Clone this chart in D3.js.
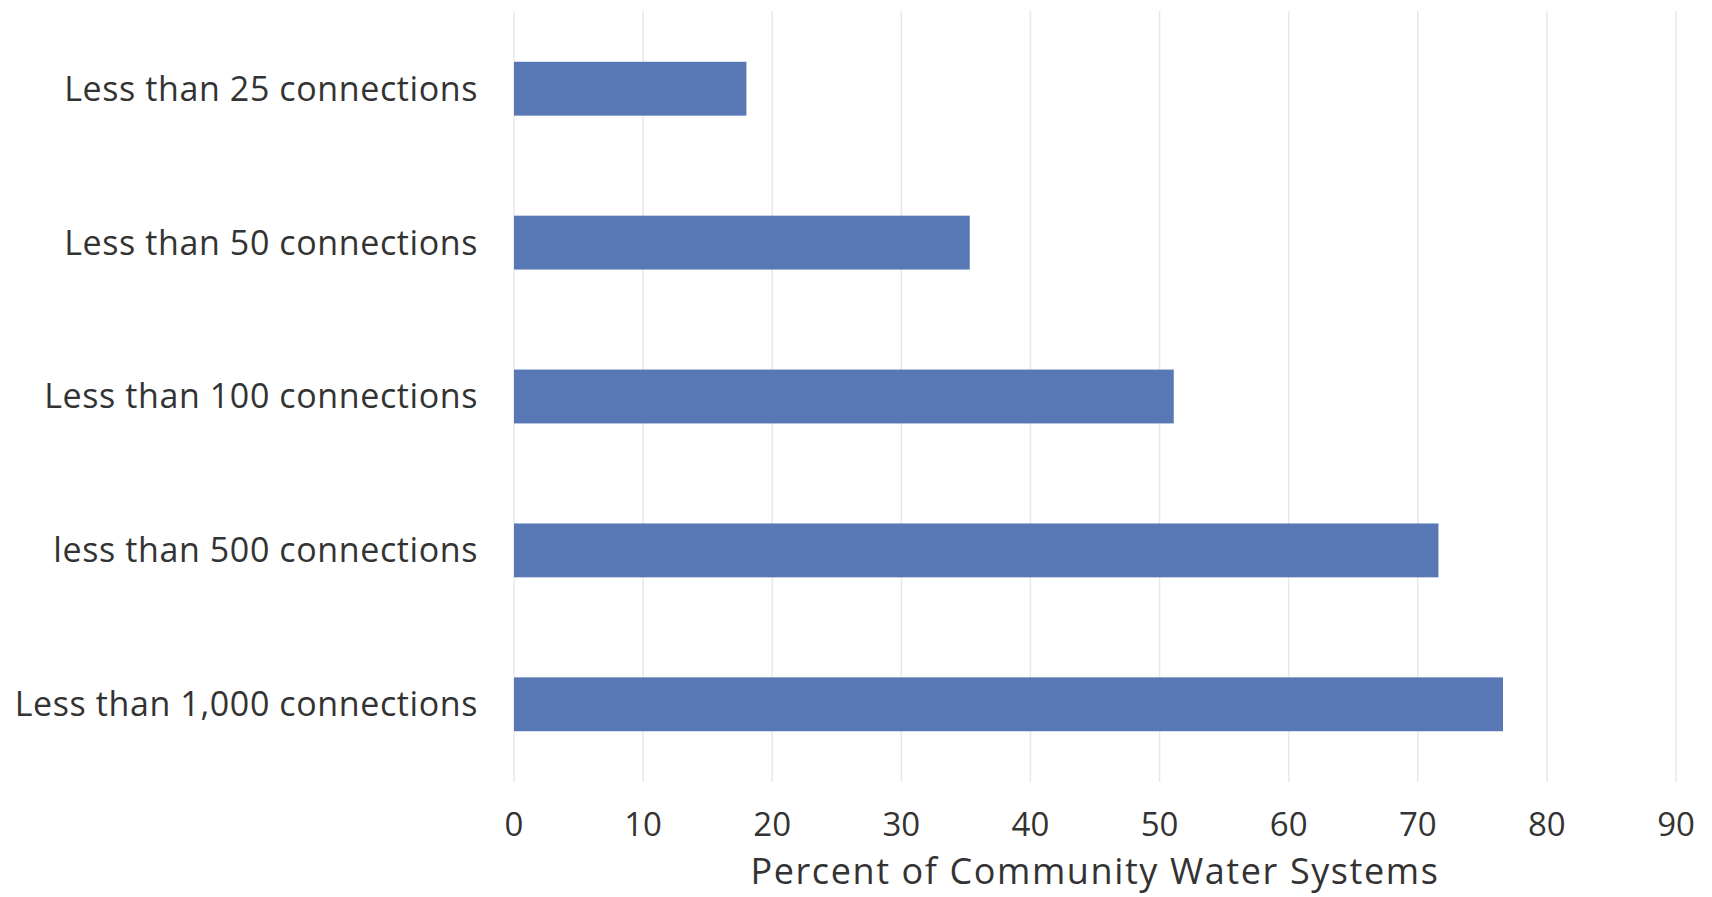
<!DOCTYPE html>
<html>
<head>
    <style>
        body {
            margin: 0;
            background-color: #fff;
            font-family: "Open Sans", Arial, sans-serif;
        }

        .grid line {
            stroke: #e8e8e8;
            stroke-width: 1.5px;
        }

        .bar {
            fill: #5778b5;
        }

        .cat-label, .tick-label, .axis-title {
            fill: #333;
        }
    </style>
</head>
<body>
    <div id="chart"></div>

    <script src="https://d3js.org/d3.v7.min.js"></script>
    <script>
        // chart data
        var categories = [
            "Less than 25 connections",
            "Less than 50 connections",
            "Less than 100 connections",
            "less than 500 connections",
            "Less than 1,000 connections"
        ];
        var percents = [18.0, 35.3, 51.1, 71.6, 76.6];
        var ticks = [0, 10, 20, 30, 40, 50, 60, 70, 80, 90];
        var axisTitle = "Percent of Community Water Systems";

        var width = 1712, height = 897;
        var margin = {top: 11, right: 36, bottom: 115, left: 514};

        var svg = d3.select("#chart").append("svg")
            .attr("width", width)
            .attr("height", height);

        var x = d3.scaleLinear()
            .domain([0, 90])
            .range([margin.left, width - margin.right]);

        var y = d3.scaleBand()
            .domain(categories)
            .range([margin.top, height - margin.bottom])
            .paddingInner(0.65)
            .paddingOuter(0.33);

        // vertical gridlines
        svg.append("g").attr("class", "grid")
            .selectAll("line")
            .data(ticks)
            .enter().append("line")
            .attr("x1", function(d) { return x(d); })
            .attr("x2", function(d) { return x(d); })
            .attr("y1", margin.top)
            .attr("y2", height - margin.bottom);

        svg.append("g")
            .selectAll("rect")
            .data(percents)
            .enter().append("rect")
            .attr("class", "bar")
            .attr("x", x(0))
            .attr("y", function(d, i) { return y(categories[i]); })
            .attr("width", function(d) { return x(d) - x(0); })
            .attr("height", y.bandwidth());

        svg.append("g")
            .selectAll("text")
            .data(categories)
            .enter().append("text")
            .attr("class", "cat-label")
            .attr("x", margin.left - 36)
            .attr("y", function(d) { return y(d) + y.bandwidth() / 2; })
            .attr("dy", "0.35em")
            .attr("text-anchor", "end")
            .style("font-size", "34px")
            .style("letter-spacing", "0.6px")
            .text(function(d) { return d; });

        svg.append("g")
            .selectAll("text")
            .data(ticks)
            .enter().append("text")
            .attr("class", "tick-label")
            .attr("x", function(d) { return x(d); })
            .attr("y", 836)
            .attr("text-anchor", "middle")
            .style("font-size", "33px")
            .text(function(d) { return d; });

        svg.append("text")
            .attr("class", "axis-title")
            .attr("x", (x(0) + x(90)) / 2)
            .attr("y", 884)
            .attr("text-anchor", "middle")
            .style("font-size", "36px")
            .style("letter-spacing", "1.6px")
            .text(axisTitle);
    </script>
</body>
</html>
